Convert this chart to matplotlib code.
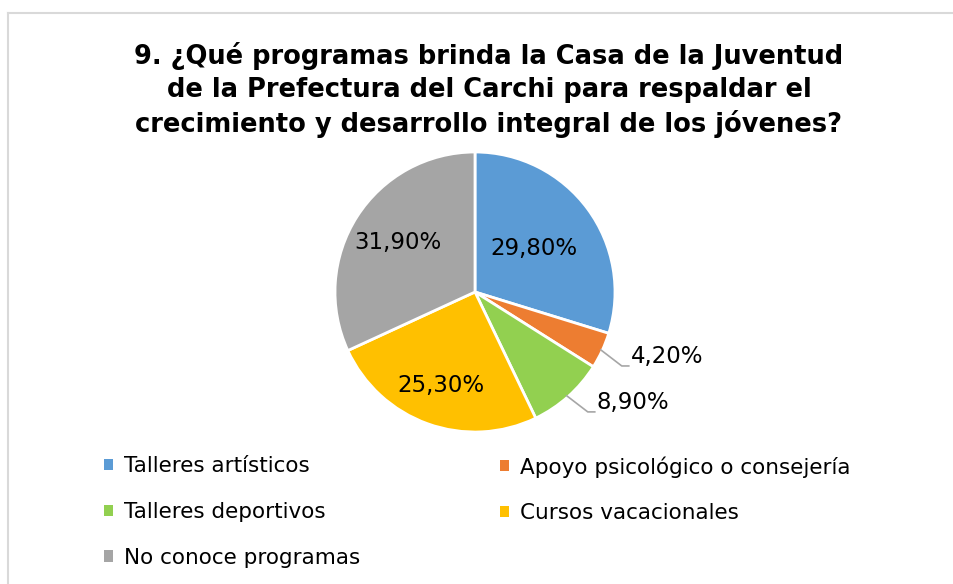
import numpy as np
import matplotlib

matplotlib.use("Agg")
import matplotlib.pyplot as plt  # noqa: E402
from matplotlib.lines import Line2D  # noqa: E402
from matplotlib.patches import Patch  # noqa: E402

TITLE = (
    "9. ¿Qué programas brinda la Casa de la Juventud\n"
    "de la Prefectura del Carchi para respaldar el\n"
    "crecimiento y desarrollo integral de los jóvenes?"
)
categories = [
    "Talleres artísticos",
    "Apoyo psicológico o consejería",
    "Talleres deportivos",
    "Cursos vacacionales",
    "No conoce programas",
]
values = [29.8, 4.2, 8.9, 25.3, 31.9]
labels = ["29,80%", "4,20%", "8,90%", "25,30%", "31,90%"]
colors = ["#5B9BD5", "#ED7D31", "#92D050", "#FFC000", "#A5A5A5"]

# label placement: radius for inside labels, None -> outside with leader line
label_radius = [0.52, None, None, 0.71, 0.65]

W, H = 954, 584
plt.rcParams["font.family"] = ["DejaVu Sans"]
fig = plt.figure(figsize=(W / 100, H / 100), dpi=100)

# partial chart border (top and left edges visible)
fig.add_artist(Line2D([8 / W, 1.0], [1 - 13 / H, 1 - 13 / H], color="#D9D9D9", lw=1.5))
fig.add_artist(Line2D([8 / W, 8 / W], [1 - 13 / H, 0.0], color="#D9D9D9", lw=1.5))

fig.text(489 / W, 1 - 90 / H, TITLE, ha="center", va="center", fontsize=18.5,
         fontweight="bold", color="#000000", linespacing=1.34)

cx, cy, r = 475, 292, 140
ax = fig.add_axes([(cx - r) / W, 1 - (cy + r) / H, 2 * r / W, 2 * r / H])
wedges, _ = ax.pie(values, colors=colors, startangle=90, counterclock=False,
                   wedgeprops=dict(edgecolor="white", linewidth=2))
ax.set_xlim(-1, 1)
ax.set_ylim(-1, 1)
ax.set_aspect("equal")
ax.axis("off")

for w, lab, rad in zip(wedges, labels, label_radius):
    mid = np.deg2rad((w.theta1 + w.theta2) / 2)
    x, y = np.cos(mid), np.sin(mid)
    if rad is not None:
        ax.text(rad * x, rad * y, lab, ha="center", va="center", fontsize=16.5,
                color="#000000")
    else:
        ex, ey = 1.0 * x, 1.0 * y
        bx, by = ex + 0.14, ey - 0.11
        ax.plot([ex - 0.01, bx, bx + 0.05], [ey + 0.005, by, by], color="#A6A6A6",
                lw=1.2, clip_on=False)
        ax.text(bx + 0.065, by + 0.065, lab, ha="left", va="center", fontsize=16.5,
                color="#000000")

handles = [Patch(facecolor=c, edgecolor="none") for c in colors]
leg_kw = dict(loc="upper left", frameon=False, fontsize=15.5, handlelength=0.42,
              handleheight=0.42, handletextpad=0.5, labelspacing=1.2, borderaxespad=0,
              borderpad=0)
fig.legend([handles[i] for i in (0, 2, 4)], [categories[i] for i in (0, 2, 4)],
           bbox_to_anchor=(104 / W, 1 - 456 / H), **leg_kw)
fig.legend([handles[i] for i in (1, 3)], [categories[i] for i in (1, 3)],
           bbox_to_anchor=(500 / W, 1 - 456 / H), **leg_kw)

fig.savefig("out.png", dpi=100)
